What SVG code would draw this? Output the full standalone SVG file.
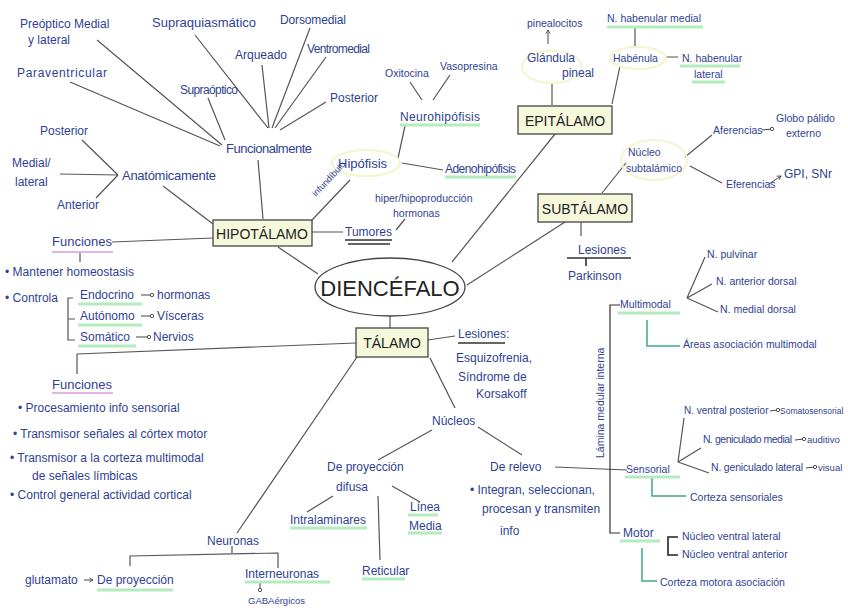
<svg xmlns="http://www.w3.org/2000/svg" width="848" height="615" viewBox="0 0 848 615">
<style>
text{font-family:"Liberation Sans","DejaVu Sans",sans-serif;fill:#2f3f94;font-size:12px}
.s{font-size:10.5px}
.box{fill:#f6f8dc;stroke:#444;stroke-width:1.3}
.bt{fill:#222;font-size:14px;text-anchor:middle}
.ln{stroke:#555;stroke-width:1.2;fill:none}
.gu{stroke:#b5ecbe;stroke-width:3;fill:none}
.pu{stroke:#e6b5e6;stroke-width:2;fill:none}
.tl{stroke:#3aa88a;stroke-width:1.5;fill:none}
.hl{fill:none;stroke:#f3f6cc;stroke-width:2}
.ar{stroke:#444;stroke-width:1;fill:none}
</style>
<defs>
<marker id="ci" viewBox="0 0 6 6" refX="3" refY="3" markerWidth="5" markerHeight="5"><circle cx="3" cy="3" r="2" fill="#fff" stroke="#333"/></marker>
<marker id="ah" viewBox="0 0 8 8" refX="6" refY="4" markerWidth="6" markerHeight="6" orient="auto"><path d="M1,1 L6,4 L1,7" fill="none" stroke="#333"/></marker>
</defs>
<rect width="848" height="615" fill="#fff"/>

<g id="connectors">
<path class="ln" d="M278,247 L318,274"/>
<path class="ln" d="M390,316 L390,328"/>
<path class="ln" d="M555,134 L452,262"/>
<path class="ln" d="M565,222 L467,285"/>
<path class="ln" d="M263,219 L258,160"/>
<path class="ln" d="M268,128 L195,35 M269,128 L262,65 M272,128 L310,28 M275,128 L326,57 M280,130 L326,102 M225,140 L208,98 M222,145 L97,40 M220,146 L70,82"/>
<path class="ln" d="M118,175 L82,140 M118,175 L60,174 M118,175 L96,198"/>
<path class="ln" d="M163,186 L213,224"/>
<path class="ln" d="M312,220 L350,180"/>
<path class="ln" d="M398,158 L405,126 M402,163 L443,170"/>
<path class="ln" d="M410,82 L422,100 M450,75 L433,100"/>
<path class="ln" d="M312,232 L343,232 M396,230 L405,219"/>
<path class="ln" d="M213,238 L112,242 M80,252 L80,262"/>
<path class="ln" d="M73,298 L68,298 L68,340 L75,340 M68,319 L75,319"/>
<path class="ar" d="M141,295 L152,295" marker-end="url(#ci)"/>
<path class="ar" d="M141,316 L152,316" marker-end="url(#ci)"/>
<path class="ar" d="M136,337 L149,337" marker-end="url(#ci)"/>
<path class="ln" d="M552,82 L552,105"/>
<path class="ar" d="M548,44 L548,30" marker-end="url(#ah)"/>
<path class="ln" d="M620,66 L612,104"/>
<path class="ln" d="M635,28 L635,46 M666,57 L678,57"/>
<path class="ln" d="M602,193 L626,163"/>
<path class="ln" d="M685,157 L712,135 M690,166 L722,183"/>
<path class="ar" d="M762,130 L772,129" marker-end="url(#ci)"/>
<path class="ar" d="M769,184 L781,176" marker-end="url(#ah)"/>
<path class="ln" d="M581,222 L581,236"/>
<path class="ln" d="M567,258 L631,258 M586,258 L586,266" style="stroke-width:1.6;stroke:#333"/>
<path class="ln" d="M356,343 L77,354 M77,354 L77,374"/>
<path class="ln" d="M428,340 L455,336"/>
<path class="ln" d="M430,358 L455,408"/>
<path class="ln" d="M357,357 L237,533"/>
<path class="ln" d="M432,430 L378,460 M478,427 L522,455"/>
<path class="ln" d="M333,496 L307,512 M378,496 L380,560 M392,486 L420,502"/>
<path class="ln" d="M555,467 L627,470"/>
<path class="ln" d="M620,305 L610,305 L610,533 L620,533" style="stroke:#333"/>
<path class="ln" d="M687,298 L705,257 M687,298 L712,284 M687,298 L718,312"/>
<path class="ln" d="M678,462 L684,418 M678,462 L701,448 M678,462 L709,473"/>
<path class="ar" d="M770,411 L778,410" marker-end="url(#ci)"/>
<path class="ar" d="M795,440 L804,439" marker-end="url(#ci)"/>
<path class="ar" d="M806,468 L815,467" marker-end="url(#ci)"/>
<path class="ln" d="M678,537 L668,537 L668,555 L678,555" style="stroke:#222;stroke-width:1.6"/>
<path class="tl" d="M647,320 L647,346 L680,346"/>
<path class="tl" d="M652,478 L652,496 L686,496"/>
<path class="tl" d="M642,548 L642,581 L657,581"/>
<path class="ln" d="M130,566 L130,556 L278,553 L278,568 M232,553 L232,546"/>
<path class="ar" d="M84,580 L93,580" marker-end="url(#ah)"/>
<path class="ar" d="M260,583 L260,590" marker-end="url(#ci)"/>
</g>

<g id="underlines">
<path class="gu" d="M400,125 L480,125 M445,177 L516,177 M607,27 L703,27 M680,66 L740,66 M692,82 L725,82 M78,304 L142,304 M78,325 L142,325 M78,346 L136,346 M618,313 L680,313 M625,477 L680,477 M620,541 L660,541 M290,528 L367,528 M362,579 L405,579 M408,515 L438,515 M408,533 L442,533 M97,590 L173,590 M245,582 L330,582"/>
<path class="pu" d="M52,252 L113,252 M52,393 L113,393"/>
<path class="ln" d="M345,240 L392,240 M348,244 L390,244 M458,343 L505,343" style="stroke:#333;stroke-width:1.5"/>
</g>

<g id="n-dien"><ellipse cx="390" cy="287" rx="75" ry="29" fill="#fff" stroke="#444" stroke-width="1.3"/><text x="390" y="296" class="bt" style="font-size:22px">DIENCÉFALO</text></g>
<g id="n-hipo"><rect class="box" x="213" y="220" width="99" height="26"/><text x="262" y="239" class="bt">HIPOTÁLAMO</text></g>
<g id="n-epi"><rect class="box" x="518" y="106" width="94" height="28"/><text x="565" y="126" class="bt">EPITÁLAMO</text></g>
<g id="n-sub"><rect class="box" x="538" y="194" width="94" height="28"/><text x="585" y="214" class="bt">SUBTÁLAMO</text></g>
<g id="n-tal"><rect class="box" x="356" y="328" width="72" height="29"/><text x="392" y="348" class="bt">TÁLAMO</text></g>

<g id="hipotalamo-labels">
<text x="20" y="28">Preóptico Medial</text>
<text x="28" y="44">y lateral</text>
<text x="152" y="27" style="font-size:13px">Supraquiasmático</text>
<text x="280" y="24" textLength="66">Dorsomedial</text>
<text x="235" y="59">Arqueado</text>
<text x="307" y="53" textLength="63">Ventromedial</text>
<text x="17" y="77" textLength="90">Paraventricular</text>
<text x="180" y="94" textLength="58">Supraóptico</text>
<text x="330" y="102">Posterior</text>
<text x="226" y="153" style="font-size:13px" textLength="86">Funcionalmente</text>
<text x="40" y="135">Posterior</text>
<text x="12" y="167">Medial/</text>
<text x="15" y="186">lateral</text>
<text x="122" y="180" style="font-size:13px" textLength="94">Anatómicamente</text>
<text x="57" y="209">Anterior</text>
<ellipse class="hl" cx="366" cy="163" rx="34" ry="13"/>
<text x="338" y="168" style="font-size:13px">Hipófisis</text>
<text x="0" y="0" style="font-size:9px" transform="translate(316,197) rotate(-47)">infundíbulo</text>
<text x="385" y="77" class="s">Oxitocina</text>
<text x="440" y="70" class="s">Vasopresina</text>
<text x="400" y="121" textLength="80">Neurohipófisis</text>
<text x="445" y="173" textLength="71">Adenohipófisis</text>
<text x="375" y="202" class="s">hiper/hipoproducción</text>
<text x="393" y="217" class="s">hormonas</text>
<text x="345" y="236">Tumores</text>
<text x="52" y="246" style="font-size:13px">Funciones</text>
<text x="5" y="276">• Mantener homeostasis</text>
<text x="5" y="302">• Controla</text>
<text x="80" y="299">Endocrino</text>
<text x="157" y="299">hormonas</text>
<text x="80" y="320">Autónomo</text>
<text x="157" y="320">Vísceras</text>
<text x="80" y="341">Somático</text>
<text x="153" y="341">Nervios</text>
</g>

<g id="epitalamo-labels">
<text x="527" y="27" class="s">pinealocitos</text>
<ellipse class="hl" cx="552" cy="67" rx="30" ry="16"/>
<text x="527" y="62">Glándula</text>
<text x="562" y="77">pineal</text>
<text x="607" y="22" class="s">N. habenular medial</text>
<ellipse class="hl" cx="638" cy="58" rx="28" ry="11"/>
<text x="613" y="62" class="s">Habénula</text>
<text x="682" y="62" class="s">N. habenular</text>
<text x="694" y="78" class="s">lateral</text>
</g>

<g id="subtalamo-labels">
<ellipse class="hl" cx="654" cy="160" rx="33" ry="20"/>
<text x="628" y="156" class="s">Núcleo</text>
<text x="626" y="172" class="s">subtalámico</text>
<text x="713" y="134" class="s">Aferencias</text>
<text x="776" y="122" class="s">Globo pálido</text>
<text x="786" y="137" class="s">externo</text>
<text x="726" y="188" class="s">Eferencias</text>
<text x="784" y="178">GPI, SNr</text>
<text x="578" y="254">Lesiones</text>
<text x="568" y="280">Parkinson</text>
</g>

<g id="talamo-labels">
<text x="458" y="338">Lesiones:</text>
<text x="456" y="362">Esquizofrenia,</text>
<text x="458" y="381">Síndrome de</text>
<text x="476" y="398">Korsakoff</text>
<text x="52" y="389" style="font-size:13px">Funciones</text>
<text x="18" y="412">• Procesamiento info sensorial</text>
<text x="13" y="438">• Transmisor señales al córtex motor</text>
<text x="10" y="462">• Transmisor a la corteza multimodal</text>
<text x="32" y="480">de señales límbicas</text>
<text x="10" y="499">• Control general actividad cortical</text>
<text x="432" y="425">Núcleos</text>
<text x="327" y="471">De proyección</text>
<text x="336" y="491">difusa</text>
<text x="290" y="524">Intralaminares</text>
<text x="362" y="575">Reticular</text>
<text x="410" y="511">Línea</text>
<text x="409" y="530">Media</text>
<text x="490" y="471">De relevo</text>
<text x="470" y="494">• Integran, seleccionan,</text>
<text x="482" y="513">procesan y transmiten</text>
<text x="500" y="535">info</text>
<text x="0" y="0" class="s" transform="translate(604,458) rotate(-90)">Lámina medular interna</text>
<text x="620" y="308" class="s">Multimodal</text>
<text x="707" y="258" class="s">N. pulvinar</text>
<text x="716" y="285" class="s">N. anterior dorsal</text>
<text x="720" y="313" class="s">N. medial dorsal</text>
<text x="683" y="348" class="s">Áreas asociación multimodal</text>
<text x="684" y="414" style="font-size:10px">N. ventral posterior</text>
<text x="780" y="414" style="font-size:8.5px">Somatosensorial</text>
<text x="703" y="443" class="s" textLength="89">N. geniculado medial</text>
<text x="807" y="443" style="font-size:9.5px">auditivo</text>
<text x="711" y="471" class="s" textLength="92">N. geniculado lateral</text>
<text x="818" y="471" style="font-size:9.5px">visual</text>
<text x="626" y="473" class="s">Sensorial</text>
<text x="690" y="501" class="s">Corteza sensoriales</text>
<text x="623" y="537">Motor</text>
<text x="682" y="540" class="s">Núcleo ventral lateral</text>
<text x="682" y="558" class="s">Núcleo ventral anterior</text>
<text x="660" y="586" class="s">Corteza motora asociación</text>
<text x="207" y="545">Neuronas</text>
<text x="25" y="584">glutamato</text>
<text x="97" y="584">De proyección</text>
<text x="245" y="578">Interneuronas</text>
<text x="248" y="604" style="font-size:9.5px">GABAérgicos</text>
</g>
</svg>
